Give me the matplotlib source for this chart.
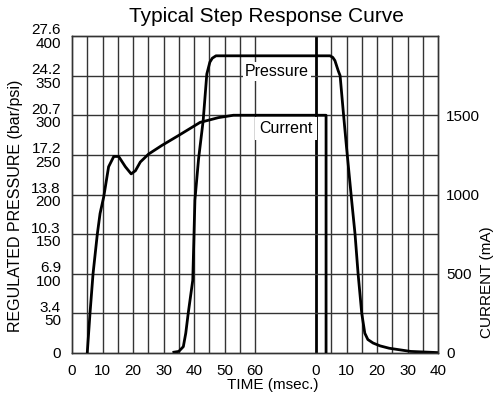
import matplotlib
matplotlib.use("Agg")
import matplotlib.pyplot as plt

plt.rcParams['font.family'] = ['Liberation Sans', 'DejaVu Sans']

# time axis is broken: first part 0-60 ms (current on), second part 0-40 ms (current off)
SEG2_OFFSET = 80

seg1_ticks = [0, 10, 20, 30, 40, 50, 60]
seg2_ticks = [0, 10, 20, 30, 40]

psi_ticks = [0, 50, 100, 150, 200, 250, 300, 350, 400]
bar_labels = ['', '3.4', '6.9', '10.3', '13.8', '17.2', '20.7', '24.2', '27.6']
ma_ticks = [0, 500, 1000, 1500]

# current (mA)
cur_t1 = [5, 5.9, 6.9, 8.3, 9.2, 10.4, 12, 13.7, 15.3, 17.5, 19.4, 20.8, 22.4,
          25.1, 29.5, 35, 42, 48, 52.9, 60]
cur_v1 = [0, 250, 500, 750, 880, 985, 1175, 1240, 1240, 1175, 1130, 1150, 1205,
          1255, 1310, 1373, 1455, 1485, 1500, 1500]
cur_t2 = [0, 3.3, 3.3]
cur_v2 = [1500, 1500, 0]

# regulated pressure (psi)
pres_t1 = [33.4, 35, 36.5, 37.3, 38.1, 39.6, 40.3, 41.5, 43, 44.2, 45.2, 46, 47.2, 60]
pres_v1 = [1, 2, 8, 25, 50, 92, 193, 245, 293, 352, 367, 372, 375, 375]
pres_t2 = [0, 4.6, 5.5, 6.2, 7.3, 7.9, 9, 10, 11.7, 12.8, 13.8, 15, 16, 17, 18.7,
           21, 24, 31, 40]
pres_v2 = [375, 375, 373, 369, 356, 350, 302, 260, 192, 150, 100, 50, 25, 17, 12.6,
           9, 6, 2, 0.5]

fig = plt.figure(figsize=(4.94, 4.0), dpi=100)
ax = fig.add_axes([72 / 494, 1 - 353 / 400, 366 / 494, 317 / 400])
ax2 = ax.twinx()

ax.set_xlim(0, 40 + SEG2_OFFSET)
ax.set_ylim(0, 400)
ax2.set_ylim(0, 2000)

grid_col = '#333333'
for x in list(range(5, 60, 5)) + [60] + [SEG2_OFFSET + d for d in range(5, 40, 5)]:
    ax.axvline(x, color=grid_col, lw=1.0, zorder=1)
ax.axvline(SEG2_OFFSET, color='black', lw=2.0, zorder=1)
for y in psi_ticks[1:-1]:
    ax.axhline(y, color=grid_col, lw=1.0, zorder=1)

for sp in list(ax.spines.values()) + list(ax2.spines.values()):
    sp.set_color(grid_col)
    sp.set_linewidth(1.0)

# curves
cur_x = cur_t1 + [SEG2_OFFSET + t for t in cur_t2]
cur_y = cur_v1 + cur_v2
ax2.plot(cur_x, cur_y, color='black', lw=2.0, zorder=3, solid_joinstyle='round')

pres_x = pres_t1 + [SEG2_OFFSET + t for t in pres_t2]
pres_y = pres_v1 + pres_v2
ax.plot(pres_x, pres_y, color='black', lw=2.0, zorder=3, solid_joinstyle='round')

ax.set_xticks(seg1_ticks + [SEG2_OFFSET + t for t in seg2_ticks])
ax.set_xticklabels([str(t) for t in seg1_ticks] + [str(t) for t in seg2_ticks])
ax.set_yticks(psi_ticks)
ax.set_yticklabels(['0'] + [b + '\n' + str(p) for b, p in zip(bar_labels[1:], psi_ticks[1:])],
                   linespacing=0.95)
ax2.set_yticks(ma_ticks)
ax2.set_yticklabels([str(m) for m in ma_ticks])

ax.tick_params(axis='both', length=0, labelsize=11, pad=8)
ax.tick_params(axis='y', pad=8)
ax2.tick_params(axis='y', length=0, labelsize=11, pad=6)

ax.text(56.8, 355, 'Pressure', fontsize=11.5, ha='left', va='center', zorder=4,
        bbox=dict(facecolor='white', edgecolor='none', pad=1.5))
ax.text(61.5, 283, 'Current', fontsize=11.5, ha='left', va='center', zorder=4,
        bbox=dict(facecolor='white', edgecolor='none', pad=3))

fig.text(266.5 / 494, 1 - 16 / 400, 'Typical Step Response Curve', fontsize=15,
         ha='center', va='center')
fig.text(273 / 494, 1 - 385 / 400, 'TIME (msec.)', fontsize=11, ha='center', va='center')
fig.text(16 / 494, 1 - 206 / 400, 'REGULATED PRESSURE (bar/psi)', fontsize=11.5,
         rotation=90, ha='center', va='center')
fig.text(487 / 494, 1 - 282 / 400, 'CURRENT (mA)', fontsize=11,
         rotation=90, ha='center', va='center')

fig.savefig('out.png', dpi=100)
